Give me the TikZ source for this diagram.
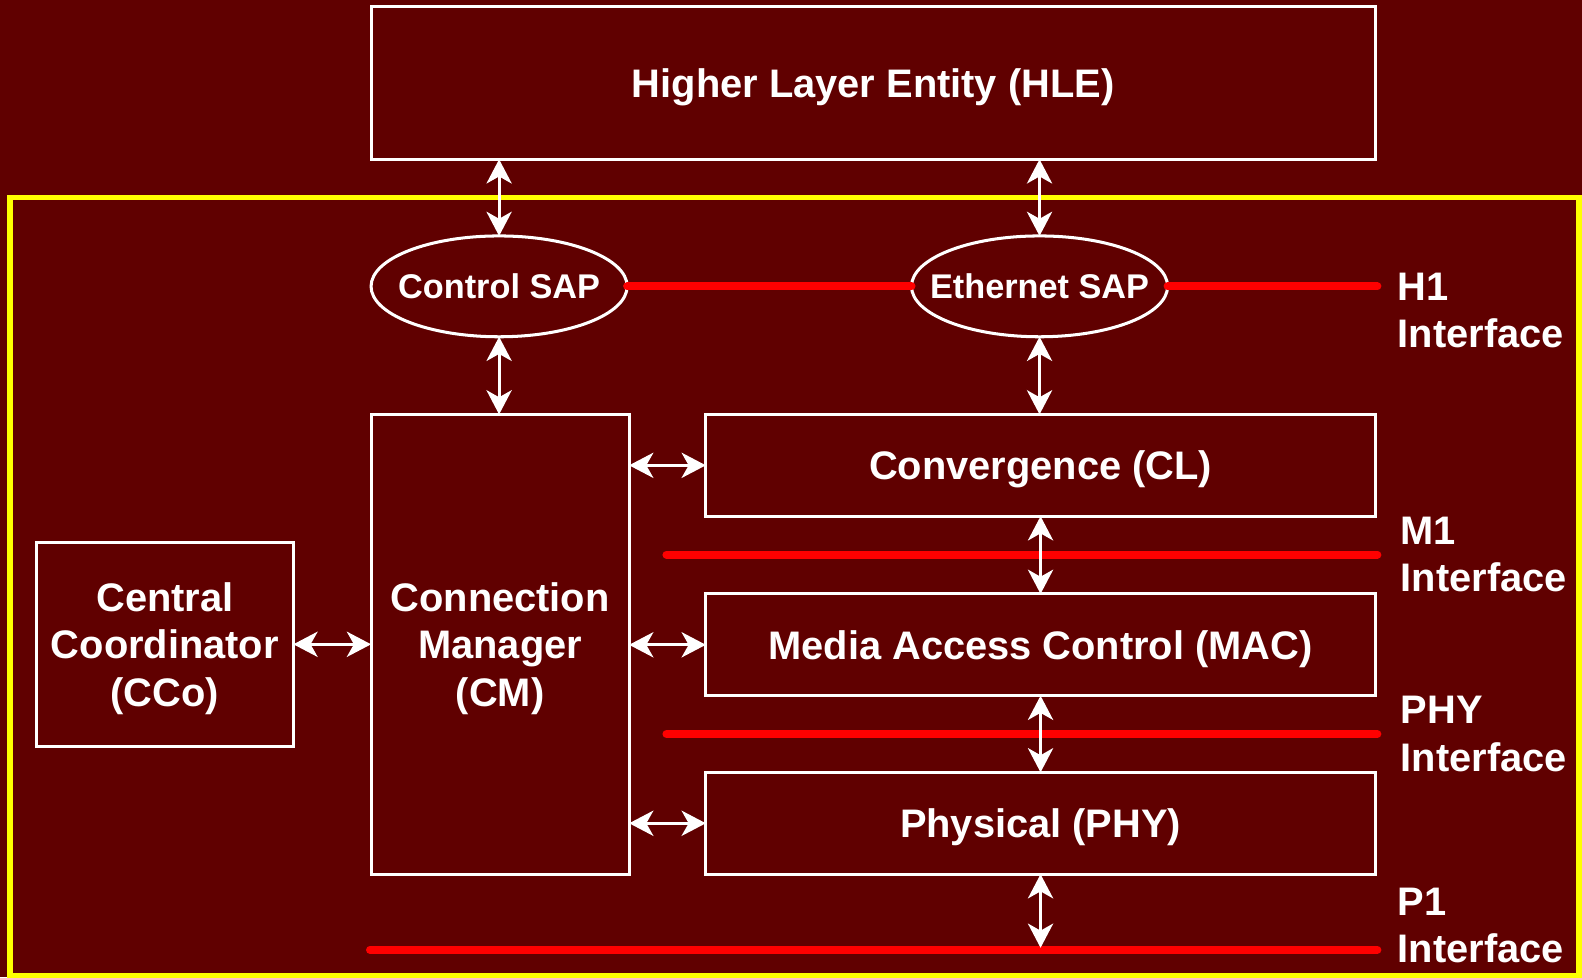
\documentclass[tikz,border=0pt]{standalone}
\usepackage{fontspec}
\setmainfont{Liberation Sans}
\usetikzlibrary{shapes.geometric,arrows.meta}
\definecolor{bgred}{HTML}{600000}
\definecolor{ifred}{HTML}{FF0000}
\definecolor{frameyel}{HTML}{FFFF00}
\newcommand{\zb}[1]{\makebox[0pt]{#1}}
\tikzset{
  blk/.style={draw=white, line width=3pt, inner sep=0pt, outer sep=0pt, text=white,
    font=\fontsize{39.5}{47}\selectfont\bfseries, align=center, text depth=0pt},
  sap/.style={ellipse, draw=white, line width=3pt, inner sep=0pt, outer sep=0pt, text=white,
    minimum width=254pt, minimum height=100pt, font=\fontsize{34}{40}\selectfont\bfseries},
  biarrow/.style={draw=white, line width=3pt,
    {Stealth[length=24pt,width=25pt,inset=7pt]}-{Stealth[length=24pt,width=25pt,inset=7pt]}},
  ifline/.style={draw=ifred, line width=8pt, line cap=round},
  iflabel/.style={anchor=west, text=white, inner sep=0pt, align=left,
    font=\fontsize{39.5}{47}\selectfont\bfseries},
}
\begin{document}
\begin{tikzpicture}[x=1pt,y=-1pt]
\fill[bgred] (0,0) rectangle (1569,969);
% yellow frame
\draw[frameyel, line width=5.5pt] (10,1000) -- (10,196) -- (1566,196) -- (1566,1000);
\draw[frameyel, line width=5.5pt] (10,968) -- (1566,968);

% boxes
\node[blk, minimum width=996pt, minimum height=152pt] (hle) at (866,82) {Higher Layer Entity (HLE)};
\node[sap] (csap) at (495,284) {\zb{Control SAP}};
\node[sap] (esap) at (1031,284) {\zb{Ethernet SAP}};
\node[blk, minimum width=256pt, minimum height=456pt] (cm) at (496,639) {Connection\\Manager\\(CM)};
\node[blk, minimum width=664pt, minimum height=101pt] (cl) at (1032,461.5) {Convergence (CL)};
\node[blk, minimum width=664pt, minimum height=101pt] (mac) at (1032,639.5) {Media Access Control (MAC)};
\node[blk, minimum width=664pt, minimum height=101pt] (phy) at (1032,816.5) {Physical (PHY)};
\node[blk, minimum width=255pt, minimum height=202pt] (cco) at (163.5,639) {Central\\Coordinator\\(CCo)};

% interface lines
\coordinate (h1b) at (1366,284);
\coordinate (m1a) at (661,550);
\coordinate (m1b) at (1366,550);
\coordinate (pha) at (661,728);
\coordinate (phb) at (1366,728);
\coordinate (p1a) at (367,942);
\coordinate (p1b) at (1366,942);
\coordinate (p1t) at (1032,940);
\draw[ifline] (csap.east) -- (esap.west);
\draw[ifline] (esap.east) -- (h1b);
\draw[ifline] (m1a) -- (m1b);
\draw[ifline] (pha) -- (phb);
\draw[ifline] (p1a) -- (p1b);

% labels
\node[iflabel] (h1l) at (1386,308) {H1\\Interface};
\node[iflabel] (m1l) at (1389,550) {M1\\Interface};
\node[iflabel] (phl) at (1389,728) {PHY\\Interface};
\node[iflabel] (p1l) at (1386,918) {P1\\Interface};

% arrows
\draw[biarrow] (hle.south -| csap.north) -- (csap.north);
\draw[biarrow] (hle.south -| esap.north) -- (esap.north);
\draw[biarrow] (csap.south) -- (csap.south |- cm.north);
\draw[biarrow] (esap.south) -- (esap.south |- cl.north);
\draw[biarrow] (cl.south) -- (mac.north);
\draw[biarrow] (mac.south) -- (phy.north);
\draw[biarrow] (phy.south) -- (p1t);
\draw[biarrow] (cco.east) -- (cco.east -| cm.west);
\draw[biarrow] (cm.east |- cl.west) -- (cl.west);
\draw[biarrow] (cm.east |- mac.west) -- (mac.west);
\draw[biarrow] (cm.east |- phy.west) -- (phy.west);

\pgfresetboundingbox
\useasboundingbox (0,0) rectangle (1569,969);
\end{tikzpicture}
\end{document}
